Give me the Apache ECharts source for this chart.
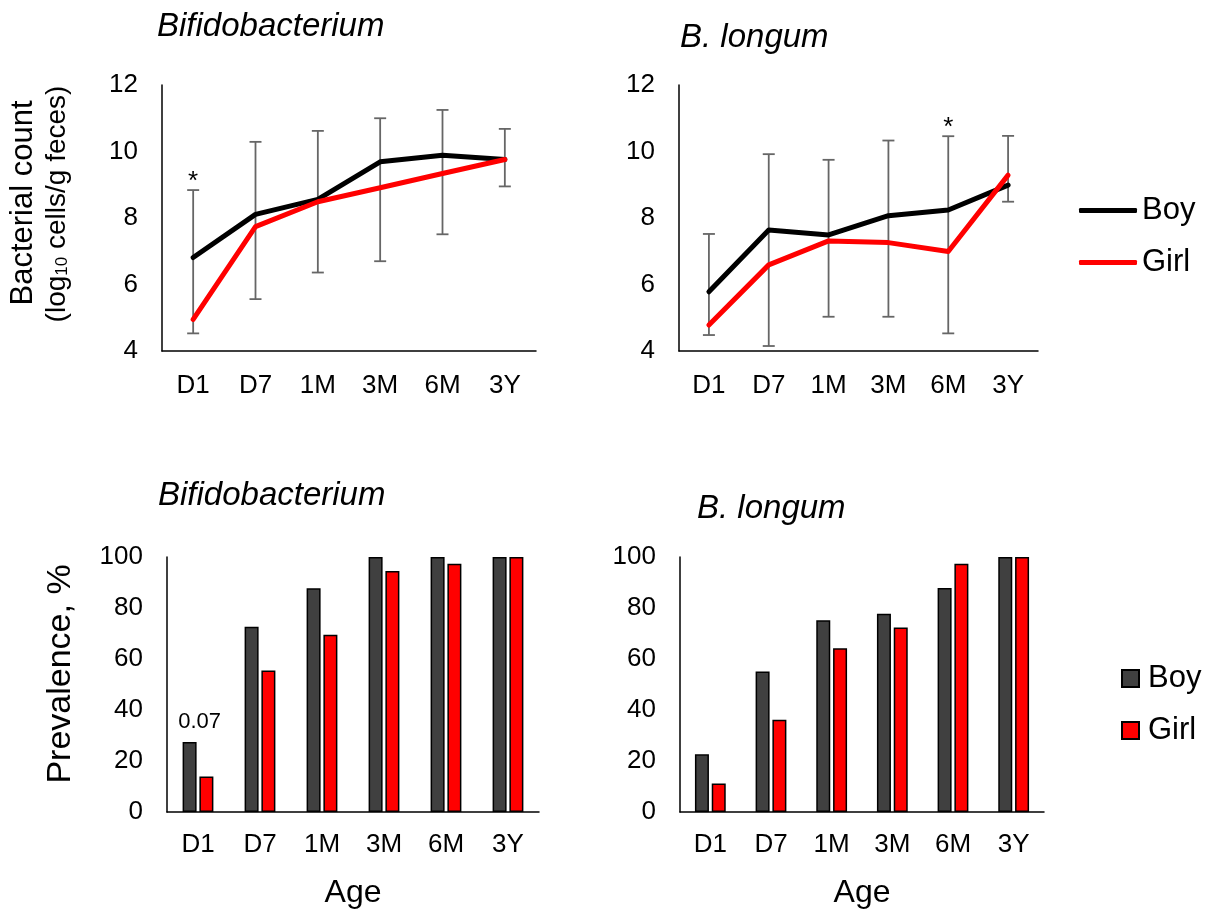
<!DOCTYPE html>
<html>
<head>
<meta charset="utf-8">
<script src="https://cdn.jsdelivr.net/npm/echarts@6/dist/echarts.min.js"></script>
<style>
html,body{margin:0;padding:0;background:#fff;}
#top{position:absolute;left:0;top:0;width:1210px;height:457px;}
#bottom{position:absolute;left:0;top:457px;width:1210px;height:457px;}
</style>
</head>
<body>
<div id="top"></div>
<div id="bottom"></div>
<script>
// ---- data ----
const categories = ['D1', 'D7', '1M', '3M', '6M', '3Y'];
const countTicks = [4, 12, 2];     // min, max, interval
const prevTicks = [0, 100, 20];

const bifCountBoy  = [6.81, 8.11, 8.56, 9.69, 9.89, 9.76];
const bifCountGirl = [4.95, 7.74, 8.49, 8.91, 9.34, 9.76];
const bifErrHigh   = [8.84, 10.29, 10.62, 11.00, 11.25, 10.68];
const bifErrLow    = [4.53, 5.56, 6.36, 6.70, 7.51, 8.95];

const lonCountBoy  = [5.78, 7.64, 7.49, 8.07, 8.24, 8.99];
const lonCountGirl = [4.78, 6.59, 7.31, 7.26, 6.99, 9.29];
const lonErrHigh   = [7.52, 9.92, 9.75, 10.33, 10.46, 10.47];
const lonErrLow    = [4.48, 4.15, 5.03, 5.03, 4.53, 8.49];

const bifPrevBoy  = [27.5, 72.6, 87.7, 100, 100, 100];
const bifPrevGirl = [13.9, 55.5, 69.5, 94.5, 97.4, 100];
const lonPrevBoy  = [22.6, 55.1, 75.2, 77.7, 87.8, 100];
const lonPrevGirl = [11.2, 36.2, 64.2, 72.4, 97.4, 100];

const bifCountNotes = [{cat: 'D1', y: 9.08, text: '*'}];
const lonCountNotes = [{cat: '6M', y: 10.71, text: '*'}];
const bifPrevNotes  = [{cat: 'D1', y: 35.5, text: '0.07'}];

// ---- styling ----
const FONT = "'Liberation Sans', Arial, sans-serif";
const BOY = '#000000', GIRL = '#ff0000', BOYBAR = '#404040', ERR = '#666666';

function xAxisCat(gridIndex, margin, extra) {
  return Object.assign({
    type: 'category', gridIndex, data: categories, boundaryGap: true,
    axisLine: {show: true, lineStyle: {color: '#000', width: 1.5}},
    axisTick: {show: false},
    axisLabel: {fontSize: 26, color: '#000', fontFamily: FONT, margin: margin}
  }, extra || {});
}
function yAxisVal(gridIndex, t) {
  return {
    type: 'value', gridIndex, min: t[0], max: t[1], interval: t[2],
    axisLine: {show: true, lineStyle: {color: '#000', width: 1.5}},
    axisTick: {show: false}, splitLine: {show: false},
    axisLabel: {fontSize: 26, color: '#000', fontFamily: FONT, margin: 24}
  };
}
function errSeries(idx, hi, lo) {
  return {
    type: 'custom', name: 'err' + idx, xAxisIndex: idx, yAxisIndex: idx, z: 1,
    data: categories.map((c, i) => [i, hi[i], lo[i]]),
    encode: {x: 0, y: [1, 2]},
    renderItem: function (params, api) {
      const h = api.coord([api.value(0), api.value(1)]);
      const l = api.coord([api.value(0), api.value(2)]);
      const w = 6;
      const st = {stroke: ERR, lineWidth: 1.8};
      return {type: 'group', children: [
        {type: 'line', shape: {x1: h[0], y1: h[1], x2: l[0], y2: l[1]}, style: st},
        {type: 'line', shape: {x1: h[0] - w, y1: h[1], x2: h[0] + w, y2: h[1]}, style: st},
        {type: 'line', shape: {x1: l[0] - w, y1: l[1], x2: l[0] + w, y2: l[1]}, style: st}
      ]};
    }
  };
}
function notesMark(notes, fontSize, offset) {
  return {
    symbol: 'circle', symbolSize: 1, itemStyle: {color: 'rgba(0,0,0,0)'},
    label: {show: true, position: 'inside', color: '#000', fontSize: fontSize, fontFamily: FONT,
      offset: offset || [0, 0], formatter: p => p.data.text},
    data: notes.map(n => ({coord: [n.cat, n.y], text: n.text}))
  };
}
function lineSeries(idx, name, data, color, notes) {
  const s = {
    type: 'line', name, xAxisIndex: idx, yAxisIndex: idx, data, z: 3,
    symbol: 'none', showSymbol: false,
    lineStyle: {color, width: 5, cap: 'round', join: 'round'},
    itemStyle: {color}
  };
  if (notes) s.markPoint = notesMark(notes, 26);
  return s;
}
function barSeries(idx, name, data, color, notes) {
  const s = {
    type: 'bar', name, xAxisIndex: idx, yAxisIndex: idx, data,
    barWidth: 14, barGap: '20%',
    itemStyle: {color, borderColor: '#000', borderWidth: 1.5}
  };
  if (notes) s.markPoint = notesMark(notes, 22, [10, 0]);
  return s;
}
function titleText(x, y, text) {
  return {type: 'text', x, y, style: {text, fontSize: 33, fontStyle: 'italic', fontFamily: FONT,
    fill: '#000', align: 'left', verticalAlign: 'middle'}};
}

// ---- top row: bacterial counts ----
const topChart = echarts.init(document.getElementById('top'), null, {renderer: 'canvas'});
topChart.setOption({
  animation: false,
  backgroundColor: '#fff',
  grid: [
    {left: 162, top: 85, width: 374, height: 266},
    {left: 679, top: 85, width: 359, height: 266}
  ],
  xAxis: [xAxisCat(0, 22), xAxisCat(1, 22)],
  yAxis: [yAxisVal(0, countTicks), yAxisVal(1, countTicks)],
  legend: {
    orient: 'vertical', left: 1079, top: 195, padding: 0,
    itemWidth: 58, itemHeight: 5, itemGap: 21, icon: 'roundRect',
    textStyle: {fontSize: 31, color: '#000', fontFamily: FONT},
    data: ['Boy', 'Girl']
  },
  graphic: [
    titleText(157, 27, 'Bifidobacterium'),
    titleText(680, 38, 'B. longum'),
    {type: 'text', x: 23, y: 203, rotation: Math.PI / 2,
      style: {text: 'Bacterial count', fontSize: 31, fontFamily: FONT, fill: '#000', align: 'center', verticalAlign: 'middle'}},
    {type: 'text', x: 57, y: 204, rotation: Math.PI / 2,
      style: {text: '(log{sub|10} cells/g feces)', fontSize: 28, fontFamily: FONT, fill: '#000',
        align: 'center', verticalAlign: 'middle',
        rich: {sub: {fontSize: 17, fontFamily: FONT, lineHeight: 13, verticalAlign: 'bottom'}}}}
  ],
  series: [
    errSeries(0, bifErrHigh, bifErrLow),
    errSeries(1, lonErrHigh, lonErrLow),
    lineSeries(0, 'Boy', bifCountBoy, BOY, bifCountNotes),
    lineSeries(0, 'Girl', bifCountGirl, GIRL),
    lineSeries(1, 'Boy', lonCountBoy, BOY, lonCountNotes),
    lineSeries(1, 'Girl', lonCountGirl, GIRL)
  ]
});

// ---- bottom row: prevalence ----
const botChart = echarts.init(document.getElementById('bottom'), null, {renderer: 'canvas'});
const ageName = {name: 'Age', nameLocation: 'middle', nameGap: 65,
  nameTextStyle: {fontSize: 32, color: '#000', fontFamily: FONT}};
botChart.setOption({
  animation: false,
  backgroundColor: '#fff',
  grid: [
    {left: 167, top: 100, width: 372, height: 257},
    {left: 680, top: 100, width: 364, height: 257}
  ],
  xAxis: [xAxisCat(0, 20, ageName), xAxisCat(1, 20, ageName)],
  yAxis: [yAxisVal(0, prevTicks), yAxisVal(1, prevTicks)],
  legend: {
    orient: 'vertical', left: 1121, top: 206, padding: 0,
    itemWidth: 17, itemHeight: 17, itemGap: 21, icon: 'rect',
    textStyle: {fontSize: 31, color: '#000', fontFamily: FONT, padding: [0, 0, 0, 4]},
    data: ['Boy', 'Girl']
  },
  graphic: [
    titleText(158, 39, 'Bifidobacterium'),
    titleText(697, 52, 'B. longum'),
    {type: 'text', x: 61, y: 217, rotation: Math.PI / 2,
      style: {text: 'Prevalence, %', fontSize: 34, fontFamily: FONT, fill: '#000', align: 'center', verticalAlign: 'middle'}}
  ],
  series: [
    barSeries(0, 'Boy', bifPrevBoy, BOYBAR, bifPrevNotes),
    barSeries(0, 'Girl', bifPrevGirl, GIRL),
    barSeries(1, 'Boy', lonPrevBoy, BOYBAR),
    barSeries(1, 'Girl', lonPrevGirl, GIRL)
  ]
});
</script>
</body>
</html>
